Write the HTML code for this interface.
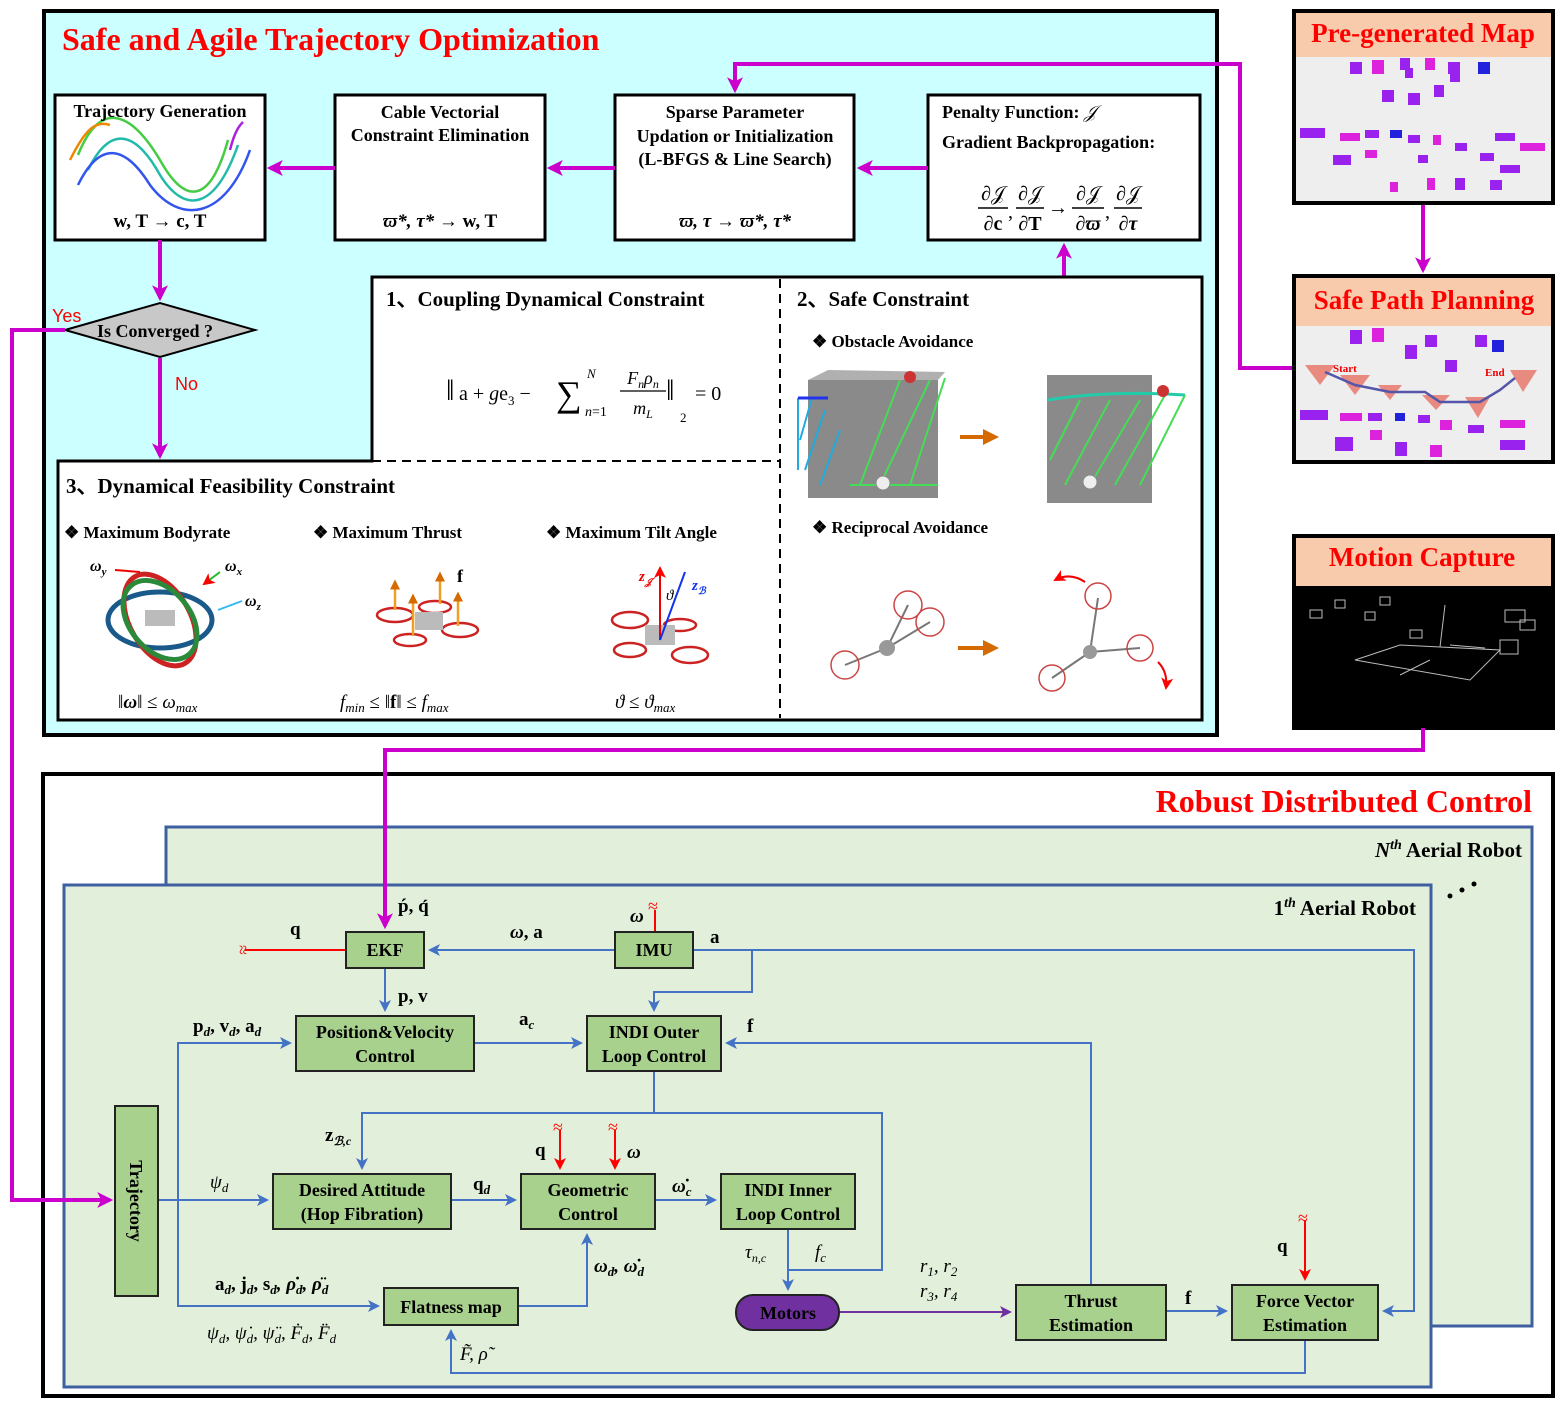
<!DOCTYPE html>
<html><head><meta charset="utf-8"><style>
html,body{margin:0;padding:0;background:#fff}
svg{display:block}
text{font-family:"Liberation Serif",serif;font-weight:bold;fill:#000}
.it{font-style:italic}
.nb{font-weight:normal}
</style></head><body>
<svg width="1561" height="1406" viewBox="0 0 1561 1406" xmlns="http://www.w3.org/2000/svg">
<defs>
<marker id="mg" markerWidth="4" markerHeight="4" refX="3.2" refY="2" orient="auto" markerUnits="strokeWidth"><path d="M0,0 L4,2 L0,4 L1,2 z" fill="#cc00cc"/></marker>
<marker id="bl" markerWidth="6" markerHeight="6" refX="5" refY="3" orient="auto" markerUnits="strokeWidth"><path d="M0,0 L6,3 L0,6 L1.5,3 z" fill="#4472c4"/></marker>
<marker id="rd" markerWidth="6" markerHeight="6" refX="5" refY="3" orient="auto" markerUnits="strokeWidth"><path d="M0,0 L6,3 L0,6 L1.5,3 z" fill="#ff0000"/></marker>
<marker id="pp" markerWidth="6" markerHeight="6" refX="5" refY="3" orient="auto" markerUnits="strokeWidth"><path d="M0,0 L6,3 L0,6 L1.5,3 z" fill="#7030a0"/></marker>
<marker id="or" markerWidth="4" markerHeight="4" refX="3" refY="2" orient="auto" markerUnits="strokeWidth"><path d="M0,0 L4,2 L0,4 z" fill="#d46a00"/></marker>
</defs>

<!-- TOP PANEL -->
<rect x="44" y="11" width="1173" height="724" fill="#ccffff" stroke="#000" stroke-width="4"/>
<text x="62" y="50" font-size="32" style="fill:#ff0000">Safe and Agile Trajectory Optimization</text>

<g fill="#fff" stroke="#000" stroke-width="3">
<rect x="55" y="95" width="210" height="145"/>
<rect x="335" y="95" width="210" height="145"/>
<rect x="615" y="95" width="239" height="145"/>
<rect x="928" y="95" width="272" height="145"/>
</g>
<g fill="none" stroke-width="2.5">
<path d="M78,155 C100,100 130,110 160,160 C185,205 210,205 228,140" stroke="#44cc44"/>
<path d="M88,170 C110,125 135,130 160,175 C185,215 215,210 238,145" stroke="#22bbaa"/>
<path d="M78,185 C100,140 125,145 150,185 C180,225 225,220 250,150" stroke="#3355ee"/>
<path d="M70,160 C85,130 95,120 110,125" stroke="#ee8800"/>
<path d="M230,150 C235,130 240,125 243,122" stroke="#aa22dd"/>
</g>
<text x="160" y="117" font-size="18" text-anchor="middle">Trajectory Generation</text>
<text x="160" y="227" font-size="19" text-anchor="middle">w, T → c, T</text>
<text x="440" y="118" font-size="18" text-anchor="middle">Cable Vectorial</text>
<text x="440" y="141" font-size="18" text-anchor="middle">Constraint Elimination</text>
<text x="440" y="227" font-size="19" text-anchor="middle" class="it">ϖ*, τ* <tspan style="font-style:normal">→ w, T</tspan></text>
<text x="735" y="118" font-size="18" text-anchor="middle">Sparse Parameter</text>
<text x="735" y="142" font-size="18" text-anchor="middle">Updation or Initialization</text>
<text x="735" y="165" font-size="18" text-anchor="middle">(L-BFGS &amp; Line Search)</text>
<text x="735" y="227" font-size="19" text-anchor="middle" class="it">ϖ, τ → ϖ*, τ*</text>
<text x="942" y="118" font-size="18">Penalty Function:  <tspan class="it nb">𝒥</tspan></text>
<text x="942" y="148" font-size="18">Gradient Backpropagation:</text>
<g font-size="20" class="nb">
<text x="993" y="200" text-anchor="middle" class="nb">∂𝒥</text><text x="993" y="230" text-anchor="middle">∂c</text>
<text x="1030" y="200" text-anchor="middle" class="nb">∂𝒥</text><text x="1030" y="230" text-anchor="middle">∂T</text>
<text x="1088" y="200" text-anchor="middle" class="nb">∂𝒥</text><text x="1088" y="230" text-anchor="middle" class="it">∂ϖ</text>
<text x="1128" y="200" text-anchor="middle" class="nb">∂𝒥</text><text x="1128" y="230" text-anchor="middle" class="it">∂τ</text>
<text x="1058" y="214" text-anchor="middle" class="nb">→</text>
<text x="1008" y="218" class="nb">,</text><text x="1105" y="218" class="nb">,</text>
</g>
<g stroke="#000" stroke-width="1.5"><line x1="978" y1="208" x2="1008" y2="208"/><line x1="1016" y1="208" x2="1044" y2="208"/><line x1="1072" y1="208" x2="1104" y2="208"/><line x1="1114" y1="208" x2="1142" y2="208"/></g>

<g stroke="#cc00cc" stroke-width="4" fill="none">
<line x1="928" y1="168" x2="860" y2="168" marker-end="url(#mg)"/>
<line x1="615" y1="168" x2="550" y2="168" marker-end="url(#mg)"/>
<line x1="335" y1="168" x2="270" y2="168" marker-end="url(#mg)"/>
<line x1="160" y1="240" x2="160" y2="298" marker-end="url(#mg)"/>
<line x1="160" y1="358" x2="160" y2="456" marker-end="url(#mg)"/>
<line x1="1064" y1="277" x2="1064" y2="246" marker-end="url(#mg)"/>
<polyline points="1295,368 1240,368 1240,64 735,64 735,90" marker-end="url(#mg)"/>
<line x1="1423" y1="203" x2="1423" y2="270" marker-end="url(#mg)"/>
</g>
<polygon points="65,330 160,303 255,330 160,357" fill="#c8c8c8" stroke="#000" stroke-width="2"/>
<text x="155" y="337" font-size="18" text-anchor="middle">Is Converged ?</text>
<text x="52" y="322" font-size="18" class="nb" style="fill:#ff0000;font-family:'Liberation Sans',sans-serif">Yes</text>
<text x="175" y="390" font-size="18" class="nb" style="fill:#ff0000;font-family:'Liberation Sans',sans-serif">No</text>

<path d="M372,277 L1202,277 L1202,720 L58,720 L58,461 L372,461 Z" fill="#fff" stroke="#000" stroke-width="3"/>
<line x1="372" y1="461" x2="780" y2="461" stroke="#000" stroke-width="2" stroke-dasharray="9,6"/>
<line x1="780" y1="279" x2="780" y2="718" stroke="#000" stroke-width="2" stroke-dasharray="9,6"/>
<text x="386" y="306" font-size="21">1、Coupling Dynamical Constraint</text>
<text x="797" y="306" font-size="21">2、Safe Constraint</text>
<text x="812" y="347" font-size="17">❖   Obstacle Avoidance</text>
<text x="812" y="533" font-size="17">❖   Reciprocal Avoidance</text>
<g class="nb" font-size="20">
<text x="446" y="400" class="nb" font-size="30">‖</text>
<text x="459" y="400" class="nb">a + <tspan class="it">g</tspan>e<tspan font-size="13" dy="5">3</tspan><tspan dy="-5"> − </tspan></text>
<text x="556" y="406" class="nb" font-size="36">∑</text>
<text x="587" y="378" class="nb it" font-size="13">N</text>
<text x="585" y="416" class="nb" font-size="14"><tspan class="it">n</tspan>=1</text>
<text x="643" y="384" class="nb it" text-anchor="middle" font-size="18">F<tspan font-size="12" dy="4">n</tspan><tspan dy="-4">ρ</tspan><tspan font-size="12" dy="4">n</tspan></text>
<line x1="620" y1="391" x2="666" y2="391" stroke="#000" stroke-width="1.3"/>
<text x="643" y="414" class="nb it" text-anchor="middle" font-size="18">m<tspan font-size="12" dy="4">L</tspan></text>
<text x="666" y="400" class="nb" font-size="30">‖</text>
<text x="680" y="422" class="nb" font-size="13">2</text>
<text x="695" y="400" class="nb">= 0</text>
</g>
<g>
<rect x="808" y="380" width="130" height="118" fill="#8a8a8a"/>
<polygon points="808,380 828,370 945,372 938,380" fill="#b0b0b0"/>
<g stroke="#44dd55" stroke-width="2"><line x1="945" y1="378" x2="910" y2="485"/><line x1="930" y1="380" x2="880" y2="485"/><line x1="900" y1="380" x2="860" y2="485"/><line x1="938" y1="485" x2="850" y2="485"/></g>
<g stroke="#22aadd" stroke-width="2"><line x1="798" y1="398" x2="798" y2="470"/><line x1="812" y1="398" x2="800" y2="440"/><line x1="825" y1="410" x2="805" y2="470"/><line x1="840" y1="430" x2="820" y2="485"/></g>
<line x1="798" y1="398" x2="828" y2="398" stroke="#2233ee" stroke-width="3"/>
<circle cx="883" cy="483" r="7" fill="#eee" stroke="#888"/>
<rect x="1047" y="375" width="105" height="128" fill="#8a8a8a"/>
<path d="M1047,400 Q1110,390 1185,395" stroke="#22ccaa" stroke-width="3" fill="none"/>
<g stroke="#44dd55" stroke-width="2"><line x1="1185" y1="395" x2="1140" y2="485"/><line x1="1165" y1="395" x2="1115" y2="485"/><line x1="1140" y1="400" x2="1090" y2="485"/><line x1="1110" y1="400" x2="1065" y2="485"/><line x1="1080" y1="400" x2="1050" y2="460"/></g>
<circle cx="1090" cy="482" r="7" fill="#eee" stroke="#888"/>
<circle cx="910" cy="377" r="6" fill="#cc3333"/><circle cx="1163" cy="391" r="6" fill="#cc3333"/>
<line x1="960" y1="437" x2="995" y2="437" stroke="#d46a00" stroke-width="4" marker-end="url(#or)"/>
<line x1="958" y1="648" x2="995" y2="648" stroke="#d46a00" stroke-width="4" marker-end="url(#or)"/>
</g>
<g stroke="#777" stroke-width="2" fill="none">
<line x1="887" y1="648" x2="908" y2="605"/><line x1="887" y1="648" x2="930" y2="622"/><line x1="887" y1="648" x2="845" y2="665"/>
<line x1="1090" y1="652" x2="1098" y2="598"/><line x1="1090" y1="652" x2="1140" y2="648"/><line x1="1090" y1="652" x2="1052" y2="678"/>
</g>
<g fill="none" stroke="#cc4444" stroke-width="1.5">
<circle cx="908" cy="605" r="14"/><circle cx="930" cy="622" r="14"/><circle cx="845" cy="665" r="14"/>
<circle cx="1098" cy="596" r="13"/><circle cx="1140" cy="648" r="13"/><circle cx="1052" cy="678" r="13"/>
</g>
<circle cx="887" cy="648" r="8" fill="#999"/><circle cx="1090" cy="652" r="7" fill="#999"/>
<path d="M1085,582 Q1070,572 1055,580" stroke="#e00" stroke-width="2" fill="none" marker-end="url(#rd)"/>
<path d="M1158,662 Q1168,672 1166,688" stroke="#e00" stroke-width="2" fill="none" marker-end="url(#rd)"/>

<text x="66" y="493" font-size="21">3、Dynamical Feasibility Constraint</text>
<text x="64" y="538" font-size="17">❖   Maximum Bodyrate</text>
<text x="313" y="538" font-size="17">❖   Maximum Thrust</text>
<text x="546" y="538" font-size="17">❖   Maximum Tilt Angle</text>
<g fill="none" stroke-width="5">
<ellipse cx="160" cy="620" rx="52" ry="28" stroke="#1a5a8a"/>
<ellipse cx="160" cy="620" rx="30" ry="50" stroke="#cc2222" transform="rotate(-30 160 620)"/>
<ellipse cx="160" cy="620" rx="45" ry="30" stroke="#2a8a3a" transform="rotate(50 160 620)"/>
</g>
<rect x="145" y="610" width="30" height="16" fill="#bbb"/>
<text x="90" y="571" font-size="16" class="it">ω<tspan font-size="11" dy="4">y</tspan></text>
<text x="225" y="571" font-size="16" class="it">ω<tspan font-size="11" dy="4">x</tspan></text>
<text x="245" y="606" font-size="16" class="it">ω<tspan font-size="11" dy="4">z</tspan></text>
<line x1="220" y1="572" x2="204" y2="584" stroke="#22bb22" stroke-width="2" marker-end="url(#rd)"/>
<line x1="242" y1="601" x2="218" y2="610" stroke="#33bbee" stroke-width="2"/>
<line x1="115" y1="570" x2="140" y2="572" stroke="#e00" stroke-width="2"/>
<text x="118" y="708" font-size="19" class="nb">‖<tspan class="it" font-weight="bold">ω</tspan>‖ ≤ <tspan class="it">ω</tspan><tspan class="it" font-size="13" dy="4">max</tspan></text>
<g fill="none" stroke="#cc2222" stroke-width="2.5">
<ellipse cx="395" cy="615" rx="18" ry="7"/><ellipse cx="460" cy="630" rx="18" ry="7"/><ellipse cx="435" cy="607" rx="16" ry="6"/><ellipse cx="410" cy="640" rx="16" ry="6"/>
</g>
<rect x="415" y="612" width="28" height="18" fill="#bbb"/>
<g stroke="#f0a020" stroke-width="2.5"><line x1="395" y1="610" x2="395" y2="582" marker-end="url(#or)"/><line x1="413" y1="636" x2="413" y2="596" marker-end="url(#or)"/><line x1="440" y1="604" x2="440" y2="574" marker-end="url(#or)"/><line x1="458" y1="626" x2="458" y2="594" marker-end="url(#or)"/></g>
<text x="457" y="582" font-size="18">f</text>
<text x="340" y="708" font-size="19" class="nb it">f<tspan font-size="13" dy="4">min</tspan><tspan dy="-4" style="font-style:normal"> ≤ ‖<tspan font-weight="bold">f</tspan>‖ ≤ </tspan>f<tspan font-size="13" dy="4">max</tspan></text>
<g fill="none" stroke="#cc2222" stroke-width="2.5">
<ellipse cx="630" cy="620" rx="18" ry="8"/><ellipse cx="690" cy="655" rx="18" ry="8"/><ellipse cx="680" cy="625" rx="16" ry="6"/><ellipse cx="630" cy="650" rx="16" ry="7"/>
</g>
<rect x="645" y="625" width="30" height="20" fill="#bbb"/>
<line x1="660" y1="640" x2="660" y2="568" stroke="#e00" stroke-width="2" marker-end="url(#rd)"/>
<line x1="660" y1="640" x2="685" y2="572" stroke="#1133ee" stroke-width="2"/>
<text x="639" y="581" font-size="15" class="it" style="fill:#e00">z<tspan font-size="10" dy="4">𝒥</tspan></text>
<text x="692" y="590" font-size="15" class="it" style="fill:#1133ee">z<tspan font-size="10" dy="4">ℬ</tspan></text>
<text x="666" y="600" font-size="15" class="it nb">ϑ</text>
<text x="615" y="708" font-size="19" class="nb it">ϑ <tspan style="font-style:normal">≤</tspan> ϑ<tspan font-size="13" dy="4">max</tspan></text>

<!-- RIGHT PANELS -->
<g stroke="#000" stroke-width="4">
<rect x="1294" y="11" width="259" height="192" fill="#eeeeee"/>
<rect x="1294" y="276" width="259" height="186" fill="#eeeeee"/>
<rect x="1294" y="536" width="259" height="192" fill="#000"/>
</g>
<rect x="1296" y="13" width="255" height="44" fill="#f8cbad"/>
<rect x="1296" y="278" width="255" height="48" fill="#f8cbad"/>
<rect x="1296" y="538" width="255" height="48" fill="#f8cbad"/>
<text x="1423" y="42" font-size="27" text-anchor="middle" style="fill:#ff0000">Pre-generated Map</text>
<text x="1424" y="309" font-size="27" text-anchor="middle" style="fill:#ff0000">Safe Path Planning</text>
<text x="1422" y="566" font-size="27" text-anchor="middle" style="fill:#ff0000">Motion Capture</text>
<g fill="#9a22ee">
<rect x="1350" y="62" width="12" height="12"/><rect x="1372" y="60" width="12" height="14" fill="#dd22dd"/><rect x="1400" y="58" width="10" height="12"/><rect x="1425" y="58" width="10" height="12" fill="#dd22dd"/><rect x="1448" y="62" width="12" height="12"/><rect x="1478" y="62" width="12" height="12" fill="#2222dd"/>
<rect x="1382" y="90" width="12" height="12"/><rect x="1408" y="93" width="12" height="12"/><rect x="1434" y="85" width="10" height="12"/><rect x="1450" y="72" width="10" height="10"/><rect x="1405" y="68" width="8" height="10"/>
<rect x="1300" y="128" width="25" height="10"/><rect x="1340" y="133" width="20" height="8" fill="#dd22dd"/><rect x="1365" y="130" width="14" height="8"/><rect x="1390" y="130" width="12" height="8" fill="#2222dd"/><rect x="1408" y="135" width="12" height="8"/><rect x="1433" y="135" width="8" height="10" fill="#dd22dd"/><rect x="1455" y="143" width="12" height="8"/><rect x="1495" y="133" width="20" height="8"/><rect x="1520" y="143" width="25" height="8" fill="#dd22dd"/>
<rect x="1333" y="155" width="18" height="10"/><rect x="1365" y="150" width="12" height="8" fill="#dd22dd"/><rect x="1418" y="155" width="10" height="8"/><rect x="1480" y="153" width="14" height="8"/><rect x="1500" y="165" width="20" height="8"/>
<rect x="1390" y="182" width="8" height="10" fill="#dd22dd"/><rect x="1427" y="178" width="8" height="12" fill="#dd22dd"/><rect x="1455" y="178" width="10" height="12"/><rect x="1490" y="180" width="12" height="10"/>
<rect x="1350" y="330" width="12" height="14"/><rect x="1372" y="328" width="12" height="14" fill="#dd22dd"/><rect x="1405" y="345" width="12" height="14"/><rect x="1425" y="335" width="12" height="12"/><rect x="1445" y="360" width="12" height="12"/><rect x="1475" y="335" width="12" height="12"/><rect x="1492" y="340" width="12" height="12" fill="#2222dd"/>
<rect x="1300" y="410" width="28" height="10"/><rect x="1340" y="413" width="22" height="8" fill="#dd22dd"/><rect x="1368" y="413" width="14" height="8"/><rect x="1395" y="413" width="10" height="8" fill="#2222dd"/><rect x="1418" y="415" width="12" height="8"/><rect x="1440" y="420" width="12" height="10" fill="#dd22dd"/><rect x="1468" y="425" width="16" height="8"/><rect x="1500" y="420" width="25" height="8" fill="#dd22dd"/><rect x="1335" y="437" width="18" height="14"/><rect x="1370" y="430" width="12" height="10" fill="#dd22dd"/><rect x="1395" y="442" width="12" height="14"/><rect x="1430" y="445" width="12" height="12" fill="#dd22dd"/><rect x="1500" y="440" width="25" height="10"/>
</g>
<g fill="#e88a80">
<polygon points="1305,365 1335,365 1320,385"/><polygon points="1340,375 1370,375 1355,395"/><polygon points="1378,385 1402,385 1390,400"/><polygon points="1422,395 1450,395 1436,410"/><polygon points="1465,397 1490,397 1478,418"/><polygon points="1510,370 1537,370 1523,392"/>
</g>
<polyline points="1325,372 1355,385 1390,392 1425,392 1440,402 1480,402 1500,390 1515,378" fill="none" stroke="#5555aa" stroke-width="2.5"/>
<text x="1333" y="372" font-size="11" style="fill:#e00">Start</text><text x="1485" y="376" font-size="11" style="fill:#e00">End</text>
<g stroke="#bbb" stroke-width="1" fill="none">
<polygon points="1355,660 1400,645 1500,650 1470,680"/>
<line x1="1440" y1="647" x2="1445" y2="605"/><line x1="1450" y1="645" x2="1485" y2="648"/><line x1="1400" y1="675" x2="1430" y2="660"/>
<rect x="1310" y="610" width="12" height="8"/><rect x="1335" y="600" width="10" height="8"/><rect x="1365" y="612" width="10" height="8"/><rect x="1380" y="597" width="10" height="8"/><rect x="1505" y="610" width="20" height="12"/><rect x="1520" y="620" width="15" height="10"/><rect x="1500" y="640" width="18" height="14"/><rect x="1410" y="630" width="12" height="8"/>
</g>

<!-- BOTTOM PANEL -->
<rect x="43" y="774" width="1510" height="622" fill="#fff" stroke="#000" stroke-width="4"/>
<text x="1532" y="812" font-size="32" text-anchor="end" style="fill:#ff0000">Robust Distributed Control</text>
<rect x="166" y="827" width="1366" height="499" fill="#e2efda" stroke="#3e5fa0" stroke-width="3"/>
<text x="1522" y="857" font-size="21" text-anchor="end"><tspan class="it">N</tspan><tspan class="it" font-size="14" dy="-8">th</tspan><tspan dy="8"> Aerial Robot</tspan></text>
<rect x="64" y="885" width="1367" height="502" fill="#e2efda" stroke="#3e5fa0" stroke-width="3"/>
<text x="1416" y="915" font-size="21" text-anchor="end">1<tspan class="it" font-size="14" dy="-8">th</tspan><tspan dy="8"> Aerial Robot</tspan></text>
<g fill="#000"><circle cx="1450" cy="896" r="2.5"/><circle cx="1462" cy="890" r="2.5"/><circle cx="1474" cy="884" r="2.5"/></g>

<g stroke="#4472c4" stroke-width="2" fill="none">
<line x1="615" y1="950" x2="430" y2="950" marker-end="url(#bl)"/>
<polyline points="693,950 1414,950 1414,1311 1384,1311" marker-end="url(#bl)"/>
<polyline points="752,950 752,992 654,992 654,1010" marker-end="url(#bl)"/>
<line x1="385" y1="968" x2="385" y2="1010" marker-end="url(#bl)"/>
<line x1="474" y1="1043" x2="581" y2="1043" marker-end="url(#bl)"/>
<line x1="158" y1="1200" x2="267" y2="1200" marker-end="url(#bl)"/>
<polyline points="178,1200 178,1043 290,1043" marker-end="url(#bl)"/>
<polyline points="178,1200 178,1306 378,1306" marker-end="url(#bl)"/>
<polyline points="654,1071 654,1113 362,1113 362,1168" marker-end="url(#bl)"/>
<polyline points="654,1113 882,1113 882,1270 788,1270"/>
<polyline points="1091,1285 1091,1043 727,1043" marker-end="url(#bl)"/>
<line x1="451" y1="1200" x2="515" y2="1200" marker-end="url(#bl)"/>
<line x1="655" y1="1200" x2="715" y2="1200" marker-end="url(#bl)"/>
<polyline points="518,1306 587,1306 587,1235" marker-end="url(#bl)"/>
<line x1="788" y1="1229" x2="788" y2="1289" marker-end="url(#bl)"/>
<line x1="1166" y1="1311" x2="1226" y2="1311" marker-end="url(#bl)"/>
<polyline points="1305,1340 1305,1373 451,1373 451,1331" marker-end="url(#bl)"/>
</g>
<line x1="839" y1="1312" x2="1010" y2="1312" stroke="#7030a0" stroke-width="2" marker-end="url(#pp)"/>
<g stroke="#ff0000" stroke-width="2" fill="none">
<line x1="346" y1="950" x2="245" y2="950"/>
<line x1="655" y1="910" x2="655" y2="932"/>
<line x1="560" y1="1130" x2="560" y2="1168" marker-end="url(#rd)"/>
<line x1="615" y1="1130" x2="615" y2="1168" marker-end="url(#rd)"/>
<line x1="1305" y1="1220" x2="1305" y2="1279" marker-end="url(#rd)"/>
</g>
<g font-size="18">
<text x="236" y="956" class="nb" style="fill:#f00" transform="rotate(90 242 951)">≈</text>
<text x="648" y="912" class="nb" style="fill:#f00">≈</text>
<text x="553" y="1133" class="nb" style="fill:#f00">≈</text>
<text x="608" y="1133" class="nb" style="fill:#f00">≈</text>
<text x="1298" y="1224" class="nb" style="fill:#f00">≈</text>
</g>

<g fill="#a9d18e" stroke="#222" stroke-width="2">
<rect x="346" y="932" width="78" height="36"/>
<rect x="615" y="932" width="78" height="36"/>
<rect x="296" y="1016" width="178" height="55"/>
<rect x="587" y="1016" width="134" height="55"/>
<rect x="115" y="1106" width="43" height="190"/>
<rect x="273" y="1174" width="178" height="55"/>
<rect x="521" y="1174" width="134" height="55"/>
<rect x="721" y="1174" width="134" height="55"/>
<rect x="384" y="1288" width="134" height="37"/>
<rect x="1016" y="1285" width="150" height="55"/>
<rect x="1232" y="1285" width="146" height="55"/>
</g>
<rect x="736" y="1295" width="103" height="35" rx="17" fill="#7030a0" stroke="#222" stroke-width="2"/>
<g font-size="18" text-anchor="middle">
<text x="385" y="956">EKF</text>
<text x="654" y="956">IMU</text>
<text x="385" y="1038">Position&amp;Velocity</text><text x="385" y="1062">Control</text>
<text x="654" y="1038">INDI Outer</text><text x="654" y="1062">Loop Control</text>
<text x="362" y="1196">Desired Attitude</text><text x="362" y="1220">(Hop Fibration)</text>
<text x="588" y="1196">Geometric</text><text x="588" y="1220">Control</text>
<text x="788" y="1196">INDI Inner</text><text x="788" y="1220">Loop Control</text>
<text x="451" y="1313">Flatness map</text>
<text x="788" y="1319">Motors</text>
<text x="1091" y="1307">Thrust</text><text x="1091" y="1331">Estimation</text>
<text x="1305" y="1307">Force Vector</text><text x="1305" y="1331">Estimation</text>
<text x="130" y="1201" transform="rotate(90 130 1201)">Trajectory</text>
</g>

<g font-size="19">
<text x="398" y="912">ṕ, q́</text>
<text x="290" y="935">q</text>
<text x="510" y="938"><tspan class="it">ω</tspan>, a</text>
<text x="630" y="922" class="it">ω</text>
<text x="710" y="943">a</text>
<text x="398" y="1002">p, v</text>
<text x="193" y="1032">p<tspan font-size="13" dy="4" class="it">d</tspan><tspan dy="-4">, v</tspan><tspan font-size="13" dy="4" class="it">d</tspan><tspan dy="-4">, a</tspan><tspan font-size="13" dy="4" class="it">d</tspan></text>
<text x="519" y="1025">a<tspan font-size="13" dy="4" class="it">c</tspan></text>
<text x="747" y="1032">f</text>
<text x="325" y="1141">z<tspan font-size="12" dy="4" class="it">ℬ,c</tspan></text>
<text x="210" y="1188" class="it nb">ψ<tspan font-size="13" dy="4">d</tspan></text>
<text x="473" y="1190">q<tspan font-size="13" dy="4" class="it">d</tspan></text>
<text x="535" y="1156">q</text>
<text x="627" y="1158" class="it">ω</text>
<text x="672" y="1192" class="it">ω̇<tspan font-size="13" dy="4">c</tspan></text>
<text x="745" y="1258" class="it nb">τ<tspan font-size="12" dy="4">n,c</tspan></text>
<text x="815" y="1258" class="it nb">f<tspan font-size="13" dy="4">c</tspan></text>
<text x="594" y="1272" class="it">ω<tspan font-size="13" dy="4">d</tspan><tspan dy="-4">, ω̇</tspan><tspan font-size="13" dy="4">d</tspan></text>
<text x="215" y="1290">a<tspan font-size="13" dy="4" class="it">d</tspan><tspan dy="-4">, j</tspan><tspan font-size="13" dy="4" class="it">d</tspan><tspan dy="-4">, s</tspan><tspan font-size="13" dy="4" class="it">d</tspan><tspan dy="-4" class="it">, ρ̇</tspan><tspan font-size="13" dy="4" class="it">d</tspan><tspan dy="-4" class="it">, ρ̈</tspan><tspan font-size="13" dy="4" class="it">d</tspan></text>
<text x="207" y="1339" class="it nb">ψ<tspan font-size="13" dy="4">d</tspan><tspan dy="-4">, ψ̇</tspan><tspan font-size="13" dy="4">d</tspan><tspan dy="-4">, ψ̈</tspan><tspan font-size="13" dy="4">d</tspan><tspan dy="-4">, Ḟ</tspan><tspan font-size="13" dy="4">d</tspan><tspan dy="-4">, F̈</tspan><tspan font-size="13" dy="4">d</tspan></text>
<text x="460" y="1360" class="it nb">F̃, ρ̃</text>
<text x="920" y="1272" class="it nb">r<tspan font-size="13" dy="4">1</tspan><tspan dy="-4">, r</tspan><tspan font-size="13" dy="4">2</tspan></text>
<text x="920" y="1297" class="it nb">r<tspan font-size="13" dy="4">3</tspan><tspan dy="-4">, r</tspan><tspan font-size="13" dy="4">4</tspan></text>
<text x="1185" y="1304">f</text>
<text x="1277" y="1252">q</text>
</g>

<!-- magenta lines on top -->
<g stroke="#cc00cc" stroke-width="4" fill="none">
<polyline points="65,330 12,330 12,1200 110,1200" marker-end="url(#mg)"/>
<polyline points="1423,728 1423,750 385,750 385,926" marker-end="url(#mg)"/>
</g>
</svg>
</body></html>
